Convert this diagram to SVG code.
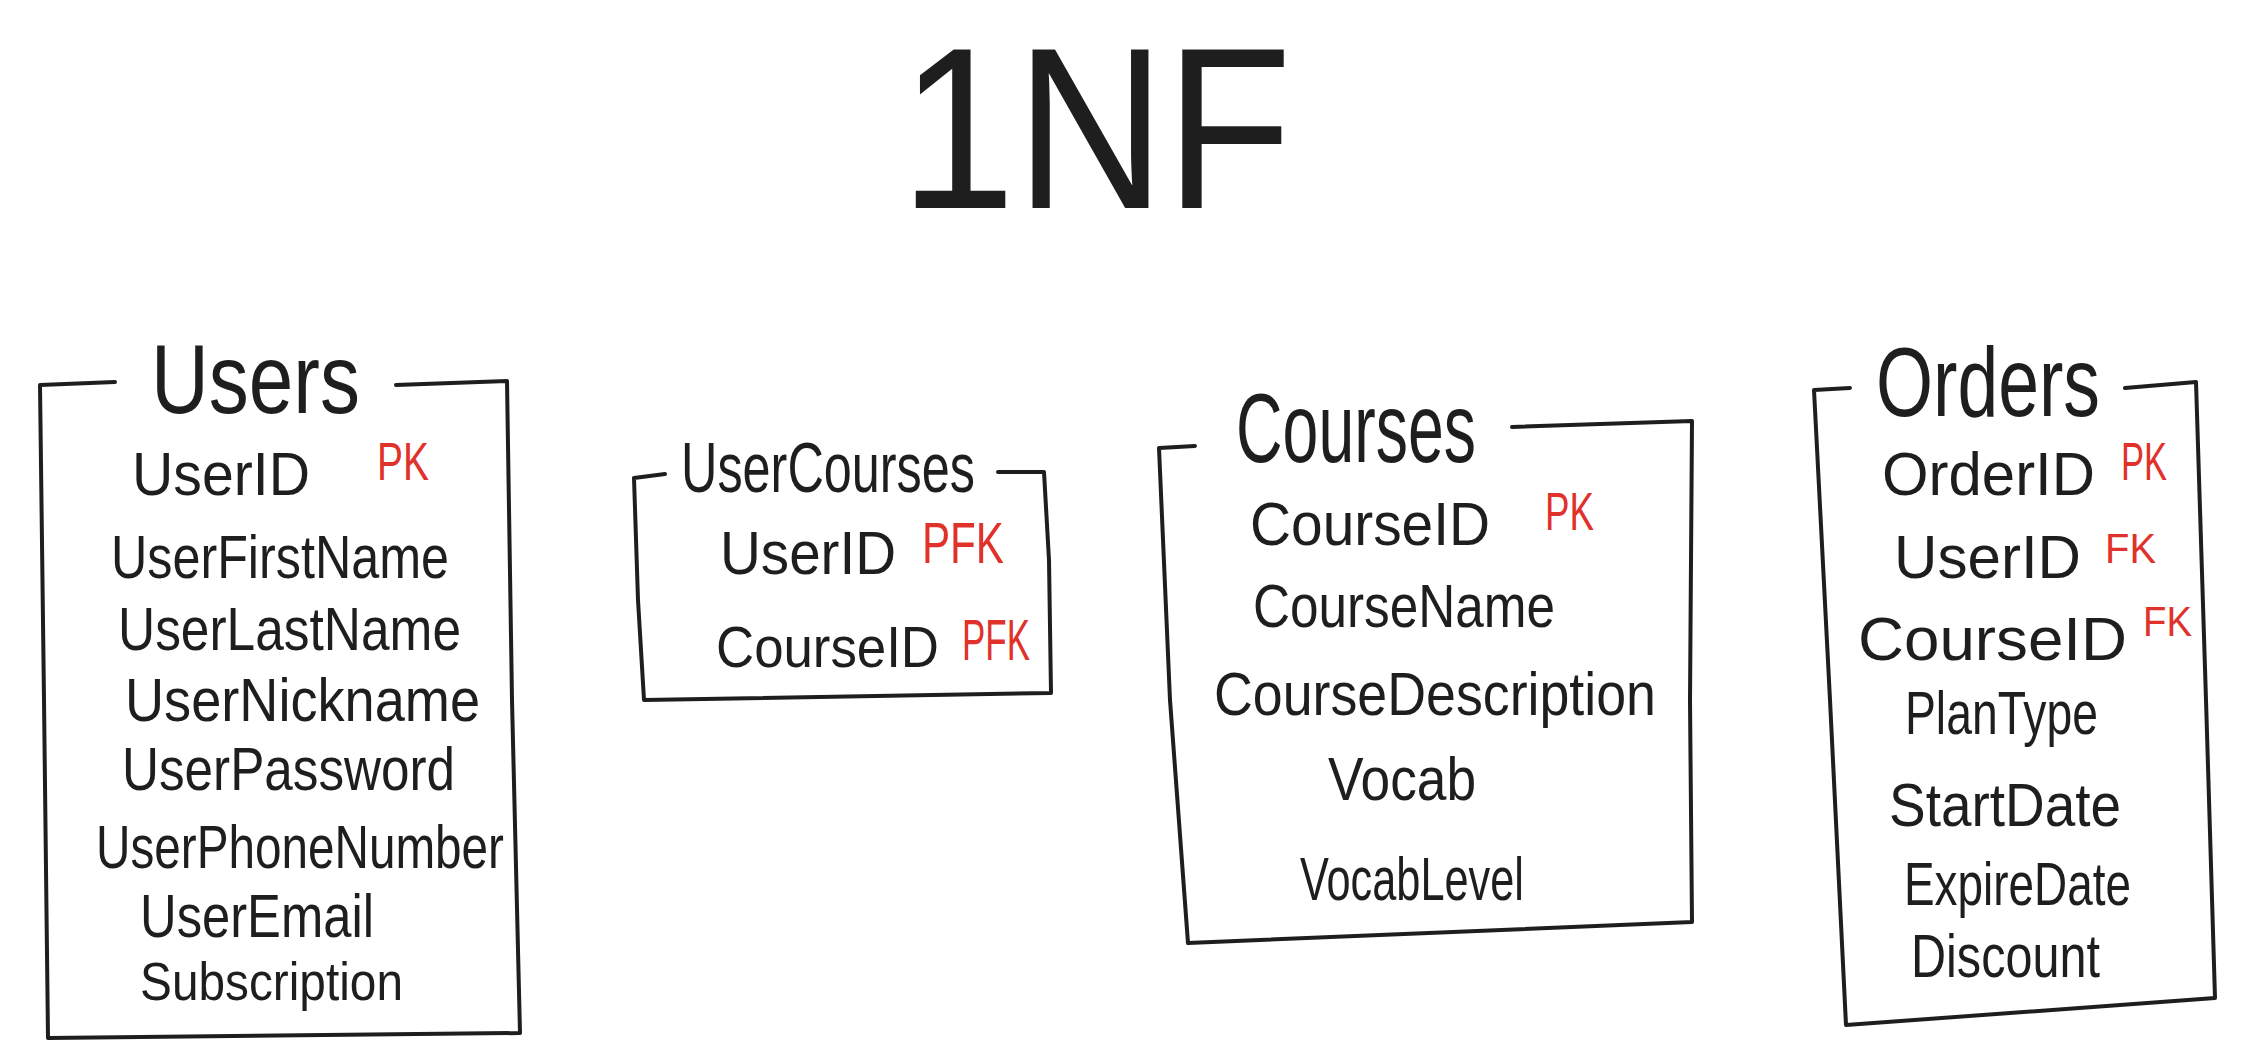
<svg xmlns="http://www.w3.org/2000/svg" width="2258" height="1056" viewBox="0 0 2258 1056">
<style>
.bg{fill:#ffffff}
.frame{fill:none;stroke:#1e1e1e;stroke-width:4;stroke-linecap:round;stroke-linejoin:round}
.t{font-family:"Liberation Sans",Arial,sans-serif;fill:#1e1e1e}
.title{font-size:230px}
.hdr{font-size:98px}
.f{font-size:61px}
.k{font-family:"Liberation Sans",Arial,sans-serif;fill:#e0322b;font-size:54px}
</style>
<rect class="bg" x="0" y="0" width="2258" height="1056"/>
<g id="title">
<text class="t title" x="900" y="208" textLength="392" lengthAdjust="spacingAndGlyphs">1NF</text>
</g>
<g id="users">
<path class="frame" d="M40 385 L115 382 M396 385 L507 381 M507 381 L512 700 L520 1033 M40 385 L44 700 L48 1038 L520 1033"/>
<text class="t hdr" x="151" y="413" textLength="209" lengthAdjust="spacingAndGlyphs">Users</text>
<text class="t f" x="132" y="495" textLength="178" lengthAdjust="spacingAndGlyphs">UserID</text>
<text class="k" x="377" y="480" textLength="52" lengthAdjust="spacingAndGlyphs">PK</text>
<text class="t f" x="111" y="578" textLength="338" lengthAdjust="spacingAndGlyphs">UserFirstName</text>
<text class="t f" x="118" y="650" textLength="343" lengthAdjust="spacingAndGlyphs">UserLastName</text>
<text class="t f" x="125" y="721" textLength="355" lengthAdjust="spacingAndGlyphs">UserNickname</text>
<text class="t f" x="122" y="790" textLength="333" lengthAdjust="spacingAndGlyphs">UserPassword</text>
<text class="t f" x="96" y="868" textLength="408" lengthAdjust="spacingAndGlyphs">UserPhoneNumber</text>
<text class="t f" x="140" y="937" textLength="234" lengthAdjust="spacingAndGlyphs">UserEmail</text>
<text class="t" style="font-size:53px" x="140" y="1000" textLength="263" lengthAdjust="spacingAndGlyphs">Subscription</text>
</g>
<g id="usercourses">
<path class="frame" d="M634 478 L665 474 M998 472 L1044 472 M1044 472 L1049 560 L1051 693 M634 478 L638 600 L644 700 L1051 693"/>
<text class="t" style="font-size:70px" x="681" y="492" textLength="294" lengthAdjust="spacingAndGlyphs">UserCourses</text>
<text class="t f" x="720" y="574" textLength="176" lengthAdjust="spacingAndGlyphs">UserID</text>
<text class="k" style="font-size:58px" x="922" y="563" textLength="82" lengthAdjust="spacingAndGlyphs">PFK</text>
<text class="t" style="font-size:57px" x="716" y="667" textLength="223" lengthAdjust="spacingAndGlyphs">CourseID</text>
<text class="k" style="font-size:58px" x="962" y="660" textLength="68" lengthAdjust="spacingAndGlyphs">PFK</text>
</g>
<g id="courses">
<path class="frame" d="M1159 448 L1195 446 M1512 427 L1692 421 M1692 421 L1690 700 L1692 922 M1159 448 L1170 700 L1188 943 L1692 922"/>
<text class="t hdr" x="1236" y="462" textLength="240" lengthAdjust="spacingAndGlyphs">Courses</text>
<text class="t f" x="1250" y="545" textLength="240" lengthAdjust="spacingAndGlyphs">CourseID</text>
<text class="k" x="1545" y="530" textLength="49" lengthAdjust="spacingAndGlyphs">PK</text>
<text class="t f" x="1253" y="627" textLength="302" lengthAdjust="spacingAndGlyphs">CourseName</text>
<text class="t f" x="1214" y="715" textLength="442" lengthAdjust="spacingAndGlyphs">CourseDescription</text>
<text class="t f" x="1328" y="800" textLength="148" lengthAdjust="spacingAndGlyphs">Vocab</text>
<text class="t f" x="1300" y="900" textLength="224" lengthAdjust="spacingAndGlyphs">VocabLevel</text>
</g>
<g id="orders">
<path class="frame" d="M1814 390 L1850 388 M2125 388 L2196 382 M2196 382 L2206 700 L2215 998 M1814 390 L1830 700 L1846 1025 L2215 998"/>
<text class="t hdr" x="1876" y="416" textLength="224" lengthAdjust="spacingAndGlyphs">Orders</text>
<text class="t f" x="1882" y="495" textLength="213" lengthAdjust="spacingAndGlyphs">OrderID</text>
<text class="k" x="2121" y="480" textLength="46" lengthAdjust="spacingAndGlyphs">PK</text>
<text class="t f" x="1894" y="578" textLength="187" lengthAdjust="spacingAndGlyphs">UserID</text>
<text class="k" style="font-size:42px" x="2105" y="563" textLength="51" lengthAdjust="spacingAndGlyphs">FK</text>
<text class="t f" x="1858" y="660" textLength="269" lengthAdjust="spacingAndGlyphs">CourseID</text>
<text class="k" style="font-size:42px" x="2143" y="636" textLength="49" lengthAdjust="spacingAndGlyphs">FK</text>
<text class="t f" x="1905" y="734" textLength="193" lengthAdjust="spacingAndGlyphs">PlanType</text>
<text class="t f" x="1889" y="826" textLength="232" lengthAdjust="spacingAndGlyphs">StartDate</text>
<text class="t f" x="1904" y="905" textLength="227" lengthAdjust="spacingAndGlyphs">ExpireDate</text>
<text class="t f" x="1911" y="977" textLength="189" lengthAdjust="spacingAndGlyphs">Discount</text>
</g>
<g id="connectors"></g>
</svg>
